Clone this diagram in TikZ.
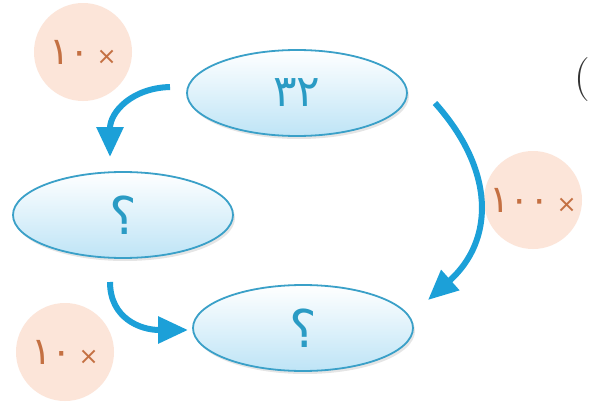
\documentclass[tikz,border=0pt]{standalone}
\usepackage{fontspec}
\newfontfamily\arabicfont[Script=Arabic]{DejaVu Sans}
\usetikzlibrary{arrows.meta,shapes.geometric,shadows}
\definecolor{arrowblue}{RGB}{28,160,216}
\definecolor{ellborder}{RGB}{58,160,200}
\definecolor{ellbottom}{RGB}{190,228,246}
\definecolor{ovalbg}{RGB}{252,229,217}
\definecolor{ovaltext}{RGB}{196,112,66}
\definecolor{elltext}{RGB}{42,155,196}
\newcommand{\timesmark}{\mbox{\fontsize{24}{24}\selectfont ×}}
\begin{document}
\begin{tikzpicture}[x=1pt,y=-1pt,
  oval/.style={ellipse, draw=ellborder, line width=1.8pt, minimum width=220pt,
    minimum height=86pt, top color=white, bottom color=ellbottom,
    drop shadow={shadow xshift=2pt,shadow yshift=-3pt,opacity=0.2},
    text=elltext, font=\arabicfont\fontsize{52}{52}\selectfont, inner sep=0pt},
  factor/.style={circle, fill=ovalbg, minimum size=98pt, inner sep=0pt,
    text=ovaltext, font=\arabicfont\fontsize{38}{38}\selectfont},
  flow/.style={draw=arrowblue, line width=6pt, -{Triangle[length=30pt,width=26pt]}}
]
\useasboundingbox[fill=white] (0,0) rectangle (590,407);

\node[factor] (f1) at (83,52) {\mbox{١٠}\,\timesmark};
\node[factor] (f2) at (533,200) {\mbox{١٠٠}\,\timesmark};
\node[factor] (f3) at (65,352) {\mbox{١٠}\,\timesmark};

\node[oval, font=\arabicfont\fontsize{44}{44}\selectfont] (top) at (297,93) {٣٢};
\node[oval] (left) at (123,215) {؟};
\node[oval] (bot) at (303,328) {؟};

\node[text=black!80, font=\fontsize{44}{44}\selectfont] (paren) at (582,80) {(};

\coordinate (a1s) at (170,87);
\coordinate (a1e) at (110,157);
\coordinate (a2s) at (110,282);
\coordinate (a2e) at (188,330);
\coordinate (a3s) at (435,103);
\coordinate (a3e) at (428,300);

\draw[flow] (a1s) .. controls (132,88) and (110,112) .. (a1e);
\draw[flow] (a2s) .. controls (110,318) and (140,330) .. (a2e);
\draw[flow] (a3s) .. controls (495,170) and (495,240) .. (a3e);
\end{tikzpicture}
\end{document}
